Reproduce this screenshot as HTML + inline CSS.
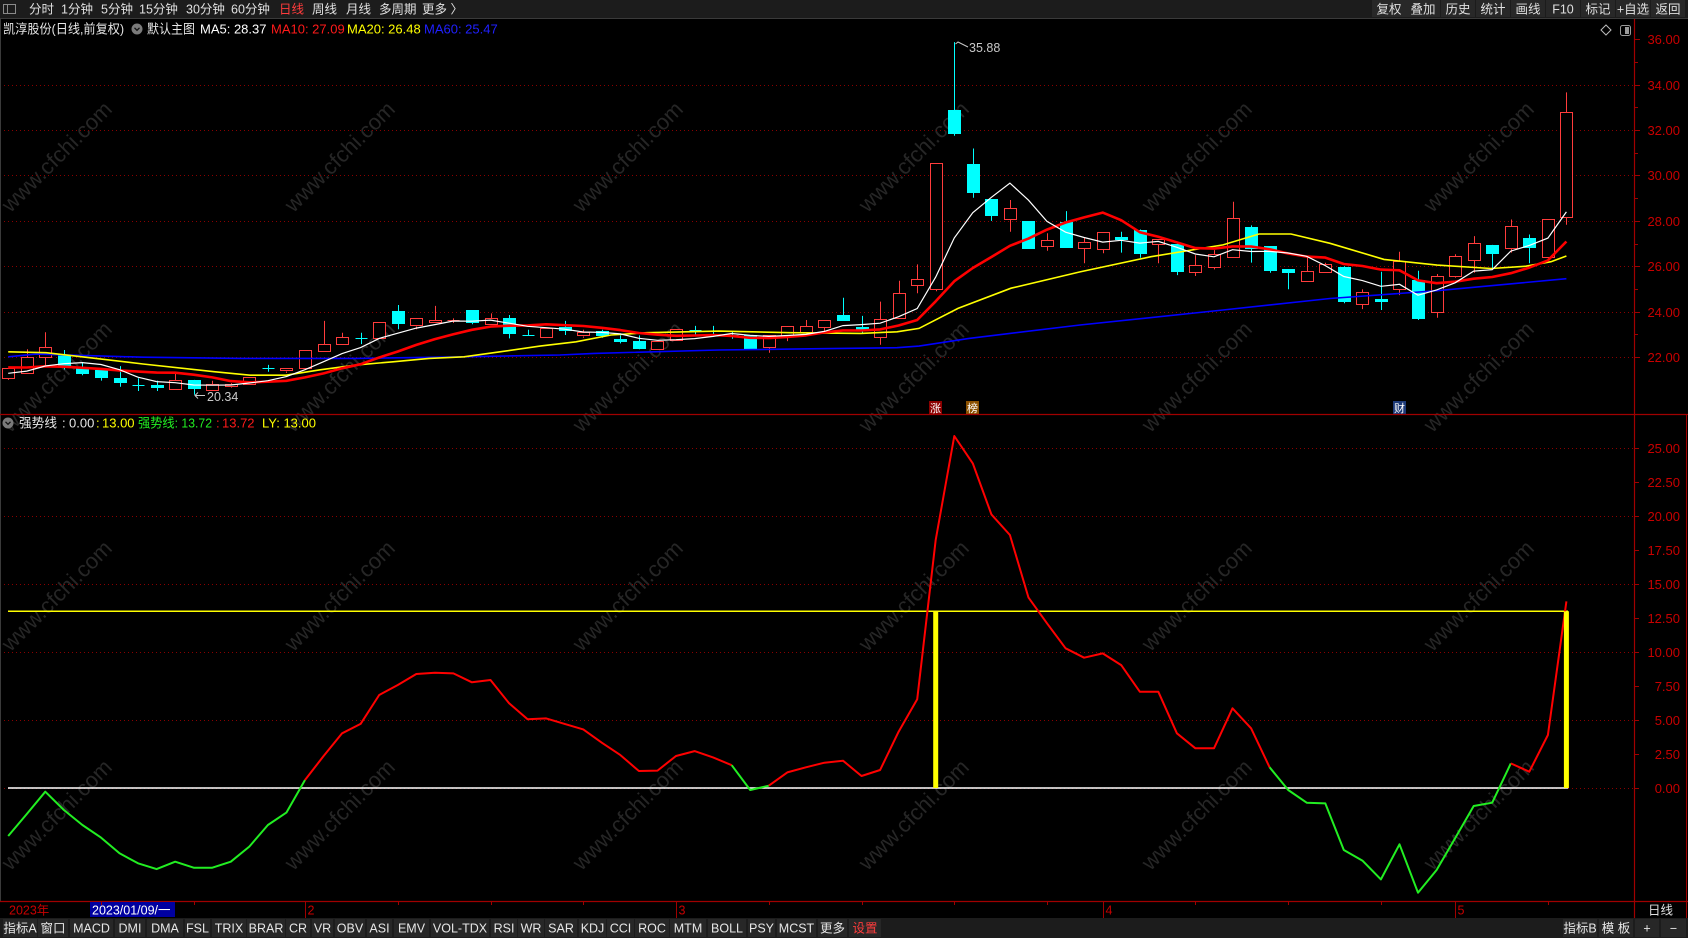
<!DOCTYPE html>
<html><head><meta charset="utf-8">
<style>
html,body{margin:0;padding:0;background:#000;width:1688px;height:938px;overflow:hidden;}
svg{display:block;}
text{font-family:"Liberation Sans","Noto Sans CJK SC",sans-serif;}
</style></head><body>
<svg id="c" width="1688" height="938" viewBox="0 0 1688 938" xmlns="http://www.w3.org/2000/svg"></svg>
<script>
(function(){
let s='';
const add=t=>{s+=t;};
const X=i=>8.2+18.55*i;
const Y=p=>357-(p-22)*22.69;
const V=v=>788-v*13.6;
const R=v=>Math.round(v)+0.5;
function T(x,y,txt,fill,size,anchor,tl){add(`<text x="${x}" y="${y}" fill="${fill}" font-size="${size||13}" text-anchor="${anchor||'start'}"${tl?` textLength="${tl}" lengthAdjust="spacingAndGlyphs"`:''}>${txt}</text>`);}

add(`<rect width="1688" height="938" fill="#000"/>`);
// watermarks
[157,377,596,815].forEach(r=>[57,340,628,914,1197,1479].forEach(c=>{
 add(`<text x="${c}" y="${r+7}" font-size="22" fill="#262626" text-anchor="middle" transform="rotate(-45 ${c} ${r})">www.cfchi.com</text>`);
}));
// grid upper
for(let p=22;p<=34;p+=2){const y=R(Y(p));add(`<line x1="0" x2="1634" y1="${y}" y2="${y}" stroke="#8a0000" stroke-dasharray="1 3"/>`);}
// grid lower
for(let v=0;v<=25;v+=5){const y=R(V(v));add(`<line x1="0" x2="1634" y1="${y}" y2="${y}" stroke="#8a0000" stroke-dasharray="1 3"/>`);}

// candle data [color, open, close, high, low]
const D=[
['r',21.06,21.50,21.52,20.99],['r',21.28,21.99,22.34,21.28],['r',21.99,22.43,23.09,21.60],['c',22.09,21.60,22.31,21.45],
['c',21.55,21.24,21.76,21.20],['c',21.44,21.09,21.44,20.96],['c',21.06,20.84,21.60,20.69],['c',20.78,20.77,21.06,20.50],
['c',20.77,20.65,20.96,20.50],['r',20.58,20.99,21.35,20.58],['c',20.99,20.58,20.99,20.34],['r',20.55,20.80,20.95,20.50],
['r',20.72,20.80,20.85,20.65],['r',20.77,21.10,21.10,20.77],['c',21.50,21.49,21.65,21.35],['r',21.40,21.50,21.50,21.30],
['r',21.50,22.31,22.31,21.50],['r',22.28,22.57,23.59,22.28],['r',22.56,22.87,23.07,22.56],['c',22.83,22.82,23.07,22.57],
['r',22.82,23.53,23.53,22.82],['c',24.03,23.45,24.29,23.22],['r',23.37,23.70,23.70,23.22],['r',23.54,23.65,24.25,23.54],
['r',23.59,23.61,23.70,23.50],['c',24.07,23.48,24.07,23.44],['r',23.44,23.70,23.92,23.44],['c',23.70,23.00,23.85,22.82],
['c',22.98,22.97,23.20,22.93],['r',22.92,23.30,23.30,22.92],['c',23.33,23.16,23.59,22.97],['r',22.94,23.09,23.20,22.85],
['c',23.14,22.91,23.20,22.85],['c',22.78,22.63,22.95,22.60],['c',22.70,22.34,22.95,22.34],['r',22.37,22.71,22.71,22.37],
['r',22.75,23.22,23.22,22.75],['c',23.17,23.16,23.37,22.97],['c',23.13,23.12,23.37,22.97],['c',22.98,22.97,23.12,22.80],
['c',22.97,22.31,22.97,22.31],['r',22.42,22.97,22.97,22.19],['r',22.93,23.37,23.37,22.70],['r',23.12,23.37,23.63,23.12],
['r',23.33,23.62,23.62,23.10],['c',23.85,23.60,24.61,23.60],['c',23.32,23.19,23.81,23.05],['r',22.87,23.66,24.44,22.54],
['r',23.70,24.81,25.36,23.70],['r',25.17,25.42,26.08,24.81],['r',24.98,30.53,30.53,24.90],['c',32.88,31.82,35.88,31.75],
['c',30.49,29.21,31.19,29.02],['c',28.95,28.22,28.95,28.00],['r',28.07,28.55,28.92,27.52],['c',27.99,26.76,27.99,26.76],
['r',26.90,27.15,27.45,26.68],['c',27.96,26.82,28.43,26.82],['r',26.79,27.06,27.27,26.13],['r',26.79,27.52,27.52,26.57],
['c',27.29,27.16,27.52,26.60],['c',27.59,26.54,27.62,26.37],['r',26.98,27.19,27.19,26.13],['c',26.98,25.76,27.00,25.61],
['r',25.76,26.05,26.49,25.57],['r',25.98,26.54,26.71,25.86],['r',26.39,28.11,28.84,26.39],['c',27.74,26.79,27.80,26.16],
['c',26.89,25.80,26.89,25.71],['c',25.86,25.68,25.86,24.99],['r',25.36,25.80,26.42,25.36],['r',25.71,26.08,26.15,25.68],
['c',25.95,24.39,26.00,24.37],['r',24.37,24.88,24.98,24.11],['c',24.56,24.44,25.76,24.07],['r',24.98,26.23,26.64,24.73],
['c',25.39,23.67,25.80,23.63],['r',23.97,25.57,25.66,23.73],['r',25.57,26.45,26.53,25.50],['r',26.27,27.01,27.33,25.71],
['c',26.94,26.54,26.94,25.90],['r',26.82,27.77,28.06,26.60],['c',27.25,26.82,27.40,26.13],['r',26.39,28.07,28.07,26.39],
['r',28.15,32.78,33.66,27.83]
];
const RED='#ff3c3c',CY='#00ffff';
D.forEach((d,i)=>{
 const xr=R(X(i));
 const o=Y(d[1]),cl=Y(d[2]),h=Y(d[3]),l=Y(d[4]);
 const top=Math.min(o,cl),bot=Math.max(o,cl);
 const col=d[0]=='r'?RED:CY;
 const bh=bot-top;
 if(bh<1.6){
   add(`<line x1="${xr}" x2="${xr}" y1="${h.toFixed(1)}" y2="${l.toFixed(1)}" stroke="${col}"/>`);
   add(`<line x1="${xr-6}" x2="${xr+6}" y1="${R(top)}" y2="${R(top)}" stroke="${col}"/>`);
   return;
 }
 if(d[0]=='r'){
   if(h<top-0.5)add(`<line x1="${xr}" x2="${xr}" y1="${h.toFixed(1)}" y2="${R(top)}" stroke="${col}"/>`);
   if(l>bot+0.5)add(`<line x1="${xr}" x2="${xr}" y1="${R(bot)}" y2="${l.toFixed(1)}" stroke="${col}"/>`);
   add(`<rect x="${xr-6}" y="${R(top)}" width="12" height="${Math.round(bh)}" fill="#000" stroke="${col}"/>`);
 }else{
   add(`<line x1="${xr}" x2="${xr}" y1="${h.toFixed(1)}" y2="${l.toFixed(1)}" stroke="${col}"/>`);
   add(`<rect x="${xr-6.5}" y="${Math.round(top)}" width="13" height="${Math.max(1,Math.round(bh))}" fill="${col}"/>`);
 }
});
// MA computations
const pad=[22.0,21.9,21.8,21.7,21.6,21.5,21.3,21.1,21.0];
const closes=pad.concat(D.map(d=>d[2]));
const ma=(n,i)=>{let t=0;for(let k=0;k<n;k++)t+=closes[i+9-k];return t/n;};
const pts=(f)=>D.map((d,i)=>X(i).toFixed(1)+','+Y(f(i)).toFixed(1)).join(' ');
// MA60 blue
const m60=[[8.2,22.01],[36,22.13],[143,21.99],[243,21.94],[357,21.94],[464,22.01],[560,22.09],[594,22.16],[719,22.31],[897,22.41],[919,22.48],[969,22.82],[1080,23.41],[1223,24.07],[1330,24.58],[1437,24.92],[1566.4,25.45]];
add(`<polyline fill="none" stroke="#0000ff" stroke-width="1.6" points="${m60.map(p=>p[0]+','+Y(p[1]).toFixed(1)).join(' ')}"/>`);
// MA20 yellow
const m20=[[8.2,22.23],[46,22.19],[82,22.01],[143,21.69],[214,21.35],[250,21.2],[286,21.2],[321,21.44],[357,21.65],[393,21.79],[429,21.94],[464,22.01],[500,22.23],[540,22.48],[576,22.67],[611,22.97],[647,23.07],[719,23.14],[790,23.07],[861,23.04],[897,23.11],[919,23.26],[958,24.14],[1011,25.03],[1080,25.75],[1151,26.42],[1223,26.94],[1259,27.42],[1291,27.42],[1330,27.01],[1384,26.30],[1437,26.05],[1491,25.9],[1526,26.0],[1551,26.2],[1566.4,26.45]];
add(`<polyline fill="none" stroke="#ffff00" stroke-width="1.6" points="${m20.map(p=>p[0]+','+Y(p[1]).toFixed(1)).join(' ')}"/>`);
// MA10 red thick
add(`<polyline fill="none" stroke="#ff0000" stroke-width="2.6" stroke-linejoin="round" points="${pts(i=>ma(10,i))}"/>`);
// MA5 white
add(`<polyline fill="none" stroke="#ffffff" stroke-width="1.2" points="${pts(i=>ma(5,i))}"/>`);

// annotations
add(`<polyline fill="none" stroke="#c8c8c8" points="955.5,44 958,42 960,43 968,47"/>`);
T(969,52,'35.88','#c8c8c8',12.5);
add(`<line x1="195" y1="395.5" x2="205" y2="395.5" stroke="#c8c8c8"/><polyline fill="none" stroke="#c8c8c8" points="198,392.5 195,395.5 198,398.5"/>`);
T(207,401,'20.34','#c8c8c8',12.5);
// markers
[[929,'涨','#8b0000'],[966,'榜','#8b5000'],[1393,'财','#1d3a78']].forEach(m=>{
 add(`<rect x="${m[0]}" y="401" width="13" height="13" fill="${m[2]}"/>`);
 T(m[0]+6.5,412,m[1],'#ffffff',11,'middle');
});

// lower panel
const v=[-3.53,-1.91,-0.27,-1.62,-2.72,-3.65,-4.8,-5.54,-5.96,-5.42,-5.86,-5.86,-5.42,-4.31,-2.72,-1.81,0.59,2.35,4.02,4.71,6.84,7.57,8.38,8.48,8.43,7.77,7.94,6.23,5.05,5.12,4.71,4.31,3.33,2.42,1.25,1.28,2.35,2.71,2.25,1.68,-0.15,0.17,1.15,1.52,1.86,2.01,0.88,1.32,4.14,6.52,18.24,25.88,23.87,20.12,18.6,14.0,12.11,10.27,9.58,9.9,9.04,7.08,7.08,4.02,2.92,2.92,5.86,4.39,1.52,-0.15,-1.08,-1.13,-4.56,-5.34,-6.72,-4.14,-7.7,-6.03,-3.7,-1.32,-1.08,1.81,1.2,3.9,13.72];
add(`<line x1="8" x2="1568" y1="${V(13).toFixed(1)}" y2="${V(13).toFixed(1)}" stroke="#ffff00" stroke-width="1.5"/>`);
add(`<line x1="8" x2="1568" y1="788" y2="788" stroke="#ffffff" stroke-width="1.5"/>`);
const green=i=>(i<=15)||(i>=39&&i<=40)||(i>=68&&i<=80);
let cur=null,seg=[];
const flush=()=>{if(seg.length>1)add(`<polyline fill="none" stroke="${cur?'#22ee22':'#ff0000'}" stroke-width="2" stroke-linejoin="round" points="${seg.join(' ')}"/>`);};
for(let i=0;i<84;i++){
 const g=green(i);
 const p1=X(i).toFixed(1)+','+V(v[i]).toFixed(1), p2=X(i+1).toFixed(1)+','+V(v[i+1]).toFixed(1);
 if(g!==cur){flush();cur=g;seg=[p1,p2];}else seg.push(p2);
}
flush();
[50,84].forEach(i=>add(`<line x1="${X(i).toFixed(1)}" x2="${X(i).toFixed(1)}" y1="788" y2="${V(13).toFixed(1)}" stroke="#ffff00" stroke-width="5"/>`));

// frame & axes
add(`<line x1="0.5" x2="0.5" y1="19" y2="901" stroke="#3a3a3a"/>`);
add(`<line x1="0" x2="1688" y1="414.5" y2="414.5" stroke="#a00000" stroke-width="1.2"/>`);
add(`<line x1="0" x2="1688" y1="901.5" y2="901.5" stroke="#a00000" stroke-width="1.2"/>`);
add(`<line x1="1634.5" x2="1634.5" y1="19" y2="918" stroke="#a00000" stroke-width="1.2"/>`);
add(`<line x1="1686.5" x2="1686.5" y1="414" y2="918" stroke="#a00000"/>`);
for(let p=22;p<=36;p+=1){
 const y=R(Y(p));
 if(p%2==0){add(`<line x1="1634" x2="1640" y1="${y}" y2="${y}" stroke="#a00000"/>`);T(1680,y+4.5,p.toFixed(2),'#c80000',13,'end');}
 else add(`<line x1="1634" x2="1638" y1="${y}" y2="${y}" stroke="#a00000"/>`);
}
for(let k=0;k<=10;k++){
 const val=k*2.5,y=R(V(val));
 add(`<line x1="1634" x2="1639" y1="${y}" y2="${y}" stroke="#a00000"/>`);
 T(1680,y+4.5,val.toFixed(2),'#c80000',13,'end');
}

// header row 2
T(3,33.5,'凯淳股份(日线,前复权)','#e6e6e6',13,'start',121);
add(`<circle cx="137" cy="29" r="5.5" fill="#7a7a7a"/><polyline fill="none" stroke="#111" stroke-width="1.3" points="134.5,27.8 137,30.3 139.5,27.8"/>`);
T(147,33.5,'默认主图','#e6e6e6',13,'start',48);
T(200,33.5,'MA5: 28.37','#ffffff',13);
T(271,33.5,'MA10: 27.09','#ff1a1a',13);
T(347,33.5,'MA20: 26.48','#ffff00',13);
T(424,33.5,'MA60: 25.47','#2020ff',13);
add(`<polygon points="1606,25 1611,30 1606,35 1601,30" fill="none" stroke="#bbbbbb"/>`);
add(`<rect x="1620.5" y="25.5" width="10" height="10" rx="2" fill="none" stroke="#9a9a9a"/><rect x="1625" y="27" width="4" height="7" fill="#9a9a9a"/>`);

// lower header
add(`<circle cx="8" cy="423" r="5.5" fill="#7a7a7a"/><polyline fill="none" stroke="#111" stroke-width="1.3" points="5.5,421.8 8,424.3 10.5,421.8"/>`);
T(19,427.5,'强势线','#e6e6e6',13,'start',38);
T(62,427.5,':','#e6e6e6',13);
T(69,427.5,'0.00','#e6e6e6',13);
T(96,427.5,':','#ffff00',13);
T(102,427.5,'13.00','#ffff00',13);
T(138,427.5,'强势线: 13.72','#22ee22',13,'start',74);
T(216,427.5,':','#ff1a1a',13);
T(222,427.5,'13.72','#ff1a1a',13);
T(262,427.5,'LY: 13.00','#ffff00',13);

// top bar
add(`<rect x="0" y="0" width="1688" height="18" fill="#1c1c1c"/><rect x="0" y="18" width="1688" height="1" fill="#3a3a3a"/>`);
add(`<rect x="3.5" y="4.5" width="12" height="9" fill="none" stroke="#8a8a8a"/><line x1="7.5" x2="7.5" y1="4" y2="14" stroke="#8a8a8a"/>`);
[['分时',29],['1分钟',61],['5分钟',101],['15分钟',139],['30分钟',186],['60分钟',231],['日线',279,'#ff3c3c'],['周线',312],['月线',346],['多周期',379],['更多 〉',422]].forEach(t=>T(t[1],13.5,t[0],t[2]||'#e0e0e0',12.5));
[['复权',1372],['叠加',1406],['历史',1441],['统计',1476],['画线',1511],['F10',1546],['标记',1581],['+自选',1616],['返回',1651]].forEach(b=>{
 add(`<rect x="${b[1]}" y="0" width="34" height="17" fill="#282828"/>`);
 T(b[1]+17,13.5,b[0],'#e0e0e0',12.5,'middle');
});

// time axis row
T(9,914.5,'2023年','#c80000',12.5);
add(`<rect x="90" y="902" width="85" height="15" fill="#0000a0"/>`);
T(92,914.5,'2023/01/09/一','#ffffff',12.5);
[[16,'2'],[36,'3'],[59,'4'],[78,'5']].forEach(m=>{
 const x=R(X(m[0]));
 add(`<line x1="${x}" x2="${x}" y1="901" y2="918" stroke="#a00000"/>`);
 T(x+2,914.5,m[1],'#c80000',12.5);
});
[5,10,21,26,31,41,46,51,56,64,69,74,83].forEach(i=>{const x=R(X(i));add(`<line x1="${x}" x2="${x}" y1="901" y2="905" stroke="#a00000"/>`);});
T(1648,914.5,'日线','#e0e0e0',12.5);

// bottom toolbar
add(`<rect x="0" y="918" width="1688" height="20" fill="#1c1c1c"/>`);
const btn=[['指标A',3,37],['窗口',38,68],['MACD',70,113],['DMI',115,145],['DMA',147,183],['FSL',185,210],['TRIX',212,246],['BRAR',247,285],['CR',286,310],['VR',312,333],['OBV',335,365],['ASI',367,392],['EMV',394,429],['VOL-TDX',431,489],['RSI',491,517],['WR',518,544],['SAR',545,577],['KDJ',579,606],['CCI',607,634],['ROC',635,669],['MTM',670,706],['BOLL',708,746],['PSY',748,775],['MCST',777,816],['更多',818,847],['设置',849,881,'#ff3c3c'],['指标B',1563,1597],['模 板',1599,1633],['+',1635,1659],['−',1661,1686]];
btn.forEach(b=>{
 add(`<rect x="${b[1]}" y="919" width="${b[2]-b[1]}" height="18" fill="#272727"/>`);
 T((b[1]+b[2])/2,932.5,b[0],b[3]||'#e6e6e6',12.5,'middle');
});

document.getElementById('c').innerHTML=s;
})();
</script>
</body></html>
